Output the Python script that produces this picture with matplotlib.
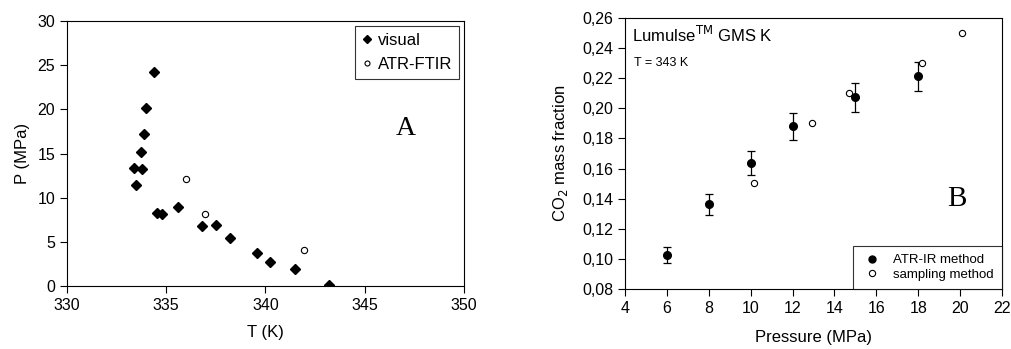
import matplotlib
matplotlib.use("Agg")
import matplotlib.pyplot as plt
from matplotlib.lines import Line2D
from matplotlib.ticker import FuncFormatter

plt.rcParams['font.family'] = ['Liberation Sans', 'DejaVu Sans']

# panel A: cloud point data
visual_T = [333.39, 333.50, 333.72, 333.77, 333.89, 334.00, 334.39, 334.51, 334.81,
            335.58, 336.81, 337.49, 338.21, 339.57, 340.21, 341.48, 343.19]
visual_P = [13.4, 11.47, 15.17, 13.25, 17.2, 20.1, 24.19, 8.3, 8.19,
            8.94, 6.75, 6.9, 5.4, 3.74, 2.72, 1.96, 0.15]
ftir_T = [336.0, 336.96, 341.95]
ftir_P = [12.08, 8.1, 4.08]

# panel B: CO2 solubility
atr_p = [6, 8, 10, 12, 15, 18]
atr_w = [0.1027, 0.1363, 0.1635, 0.1882, 0.2074, 0.2213]
atr_err = [0.0053, 0.0069, 0.0080, 0.0089, 0.0096, 0.0098]
samp_p = [10.15, 12.92, 14.69, 18.16, 20.09]
samp_w = [0.1502, 0.1902, 0.2101, 0.2302, 0.2503]

fig = plt.figure(figsize=(10.12, 3.49), dpi=100)

# --- A ---
ax1 = fig.add_axes([0.0662, 0.1805, 0.3923, 0.7593])
ax1.plot(visual_T, visual_P, 'D', color='black', markersize=5, linestyle='none', label='visual')
ax1.plot(ftir_T, ftir_P, 'o', mfc='white', mec='black', mew=0.8, markersize=4.5,
         linestyle='none', label='ATR-FTIR')
ax1.set_xlim(330, 350)
ax1.set_ylim(0, 30)
ax1.set_xticks(range(330, 351, 5))
ax1.set_yticks(range(0, 31, 5))
ax1.set_xlabel('T (K)', fontsize=12, labelpad=9)
ax1.set_ylabel('P (MPa)', fontsize=12, labelpad=5)
ax1.tick_params(direction='out', length=5, labelsize=11.5)
ax1.text(0.854, 0.596, 'A', transform=ax1.transAxes, fontsize=20,
         family='Liberation Serif', ha='center', va='center')
leg1 = ax1.legend(loc='upper right', fontsize=12, frameon=True, fancybox=False,
                  edgecolor='black', handletextpad=0.3, handlelength=0.7,
                  borderaxespad=0.3, labelspacing=0.55, borderpad=0.4, markerscale=0.8)
leg1.get_frame().set_linewidth(0.8)

# --- B ---
ax2 = fig.add_axes([0.6176, 0.1719, 0.3725, 0.7765])
ax2.errorbar(atr_p, atr_w, yerr=atr_err, fmt='o', color='black', markersize=5.5,
             ecolor='black', elinewidth=0.9, capsize=2.6, capthick=0.9)
ax2.plot(samp_p, samp_w, 'o', mfc='white', mec='black', mew=0.8, markersize=4.5,
         linestyle='none')
ax2.set_xlim(4, 22)
ax2.set_ylim(0.08, 0.26)
ax2.set_xticks(range(4, 23, 2))
ax2.set_yticks([0.08 + 0.02 * i for i in range(10)])
ax2.yaxis.set_major_formatter(FuncFormatter(lambda v, pos: f'{v:.2f}'.replace('.', ',')))
ax2.set_xlabel('Pressure (MPa)', fontsize=12, labelpad=10)
ax2.set_ylabel('CO$_2$ mass fraction', fontsize=12, labelpad=9)
ax2.tick_params(direction='out', length=5, labelsize=11.5)
ax2.text(0.018, 0.975, 'Lumulse$^{\\mathrm{TM}}$ GMS K', transform=ax2.transAxes,
         fontsize=12, ha='left', va='top')
ax2.text(0.025, 0.855, 'T = 343 K', transform=ax2.transAxes, fontsize=9, ha='left', va='top')
ax2.text(0.881, 0.332, 'B', transform=ax2.transAxes, fontsize=21,
         family='Liberation Serif', ha='center', va='center')
handles = [Line2D([], [], marker='o', color='black', markersize=5, linestyle='none'),
           Line2D([], [], marker='o', mfc='white', mec='black', mew=0.8, markersize=4.5,
                  linestyle='none')]
leg2 = ax2.legend(handles, ['ATR-IR method', 'sampling method'], loc='lower right',
                  fontsize=9.5, frameon=True, fancybox=False, edgecolor='black',
                  borderaxespad=0, handlelength=1.8, handletextpad=0.7,
                  borderpad=0.6, labelspacing=0.2)
leg2.get_frame().set_linewidth(0.8)

fig.savefig('out.png', dpi=100)
